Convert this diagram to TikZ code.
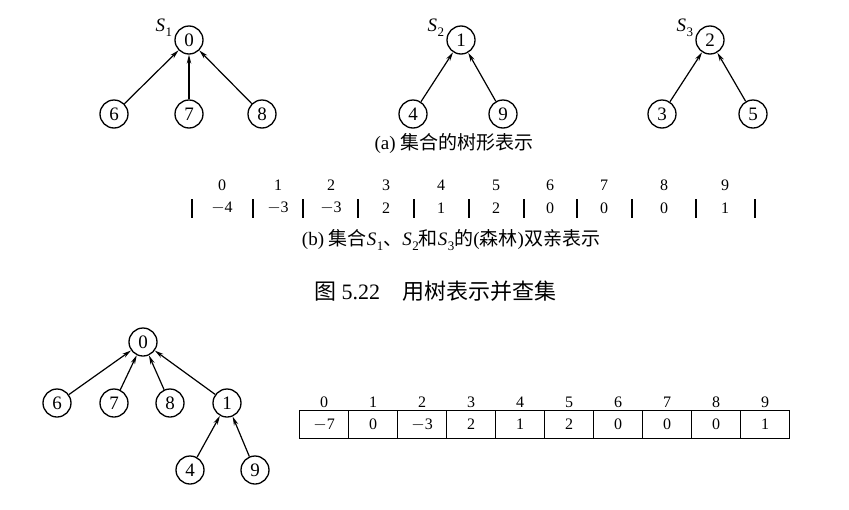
\documentclass[tikz,border=0pt]{standalone}
\usepackage{fontspec}
\setmainfont{Liberation Serif}
\newfontfamily\cjk{Noto Sans CJK SC}
\usetikzlibrary{arrows.meta,positioning}
\newcommand{\setname}[1]{\textit{S}\kern.5pt\raisebox{-.3em}{\fontsize{13}{13}\selectfont #1}}
\tikzset{
  elem/.style={draw,circle,line width=1.3pt,minimum size=28pt,inner sep=0pt,font=\fontsize{19}{19}\selectfont},
  arr/.style={line width=1.2pt,-{Stealth[length=9pt,width=4.5pt]}},
  idx/.style={font=\fontsize{16}{16}\selectfont},
  val/.style={font=\fontsize{16}{16}\selectfont},
  captxt/.style={font=\fontsize{19}{19}\selectfont}
}
\begin{document}
\begin{tikzpicture}[x=1pt,y=-1pt]
\useasboundingbox (0,0) rectangle (849,509);
% (a) three trees
\node[elem] (a0) at (189,40) {0};
\node[elem] (a6) at (114,114) {6};
\node[elem] (a7) at (189,114) {7};
\node[elem] (a8) at (262,114) {8};
\node[elem] (a1) at (461,40) {1};
\node[elem] (a4) at (413,114) {4};
\node[elem] (a9) at (503,114) {9};
\node[elem] (a2) at (710,40) {2};
\node[elem] (a3) at (662,114) {3};
\node[elem] (a5) at (753,114) {5};
\draw[arr] (a6)--(a0);
\draw[arr] (a7)--(a0);
\draw[arr] (a8)--(a0);
\draw[arr] (a4)--(a1);
\draw[arr] (a9)--(a1);
\draw[arr] (a3)--(a2);
\draw[arr] (a5)--(a2);
\node[captxt,anchor=east] (s1) at ([xshift=-3pt,yshift=2pt]a0.north west) {\setname{1}};
\node[captxt,anchor=east] (s2) at ([xshift=-3pt,yshift=2pt]a1.north west) {\setname{2}};
\node[captxt,anchor=east] (s3) at ([xshift=-3pt,yshift=2pt]a2.north west) {\setname{3}};
\node[captxt] (capa) at (454,144) {(a) {\cjk 集合的树形表示}};
% (b) parent list
\foreach \i/\x/\v in {0/222/$-$4,1/278/$-$3,2/331/$-$3,3/386/2,4/441/1,5/496/2,6/550/0,7/604/0,8/664/0,9/725/1}{
  \node[idx] (bi\i) at (\x,185) {\i};
  \node[val] (bv\i) at (\x,208) {\v};
}
\foreach \x in {192,253,303,358,414,469,524,577,632,696,755}
  \draw[line width=1.3pt] (\x,199) -- (\x,218);
\node[captxt] (capb) at (451,240) {(b) {\cjk 集合}\setname{1}{\cjk 、}\setname{2}{\cjk 和}\setname{3}{\cjk 的}({\cjk 森林}){\cjk 双亲表示}};
\node[font=\fontsize{22}{22}\selectfont] (fig) at (435,291) {{\cjk 图} 5.22\quad{\cjk 用树表示并查集}};
% merged tree
\node[elem] (c0) at (143,342) {0};
\node[elem] (c6) at (57,403) {6};
\node[elem] (c7) at (114,403) {7};
\node[elem] (c8) at (170,403) {8};
\node[elem] (c1) at (227,403) {1};
\node[elem] (c4) at (190,470) {4};
\node[elem] (c9) at (255,470) {9};
\draw[arr] (c6)--(c0);
\draw[arr] (c7)--(c0);
\draw[arr] (c8)--(c0);
\draw[arr] (c1)--(c0);
\draw[arr] (c4)--(c1);
\draw[arr] (c9)--(c1);
% merged array
\foreach \i/\v in {0/$-$7,1/0,2/$-$3,3/2,4/1,5/2,6/0,7/0,8/0,9/1}{
  \node[draw,line width=1.3pt,minimum width=49pt,minimum height=28pt,inner sep=0pt,val,anchor=north west] (m\i) at (299+49*\i,410) {\v};
  \node[idx,above=-1pt of m\i] (mi\i) {\i};
}
\end{tikzpicture}
\end{document}
